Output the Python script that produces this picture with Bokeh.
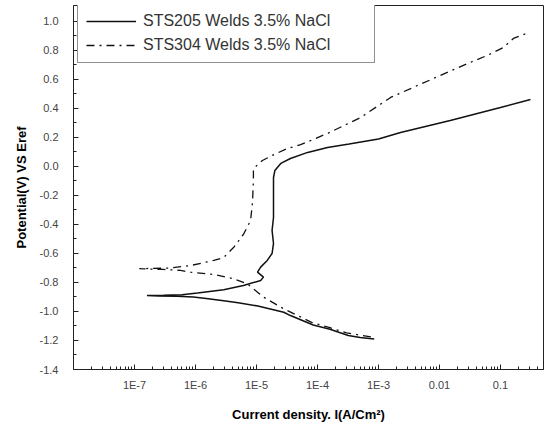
from bokeh.plotting import figure
from bokeh.models import Range1d, FixedTicker, CustomJSTickFormatter, Legend, LegendItem
from bokeh.embed import file_html
from bokeh.resources import INLINE

# ---- data ----
sts205_current = [8.5e-4, 5e-4, 3.2e-4, 1.6e-4, 8.5e-5, 3.6e-5, 2.8e-5, 1.05e-5, 5e-6, 2.9e-6,
                  1.5e-6, 9.2e-7, 5e-7, 2.5e-7, 1.6e-7,
                  3e-7, 6e-7, 1.08e-6, 2.9e-6, 6.1e-6, 1.17e-5, 1.3e-5, 1.04e-5, 1.17e-5, 1.5e-5,
                  1.8e-5, 1.9e-5, 1.8e-5, 1.9e-5, 1.9e-5, 1.9e-5, 2.0e-5, 2.5e-5, 3.6e-5, 6.9e-5,
                  1.46e-4, 3.3e-4, 1e-3, 2.3e-3, 0.015, 0.1, 0.31]
sts205_potential = [-1.19, -1.18, -1.165, -1.122, -1.093, -1.028, -1.005, -0.962, -0.94, -0.926,
                    -0.91, -0.90, -0.895, -0.893, -0.89,
                    -0.888, -0.885, -0.873, -0.85, -0.821, -0.786, -0.763, -0.729, -0.694, -0.648,
                    -0.600, -0.531, -0.441, -0.352, -0.214, -0.076, -0.028, 0.021, 0.055, 0.097,
                    0.131, 0.155, 0.19, 0.234, 0.317, 0.407, 0.462]

sts304_current = [7.5e-4, 3e-4, 1.6e-4, 8e-5, 3.2e-5, 2.5e-5, 1.3e-5, 1.04e-5, 7.1e-6, 4.2e-6,
                  2.0e-6, 8.3e-7, 5.7e-7, 3e-7, 1.2e-7,
                  1.8e-7, 3.9e-7, 8.3e-7, 2.0e-6, 2.9e-6, 4.2e-6, 4.9e-6, 5.5e-6, 6.1e-6, 8.0e-6,
                  8.6e-6, 8.9e-6, 8.9e-6, 1.25e-5, 1.8e-5, 3.2e-5, 5.3e-5, 1.5e-4, 5.1e-4, 1.58e-3,
                  3.7e-3, 0.0104, 0.029, 0.061, 0.112, 0.163, 0.277]
sts304_potential = [-1.175, -1.148, -1.112, -1.075, -0.993, -0.97, -0.901, -0.867, -0.809, -0.774,
                    -0.745, -0.729, -0.717, -0.71, -0.705,
                    -0.703, -0.70, -0.683, -0.648, -0.628, -0.559, -0.524, -0.49, -0.469, -0.372,
                    -0.248, -0.097, -0.014, 0.041, 0.076, 0.124, 0.15, 0.23, 0.338, 0.476,
                    0.545, 0.628, 0.71, 0.766, 0.821, 0.883, 0.92]

x_tick_values = [1e-7, 1e-6, 1e-5, 1e-4, 1e-3, 0.01, 0.1]
x_tick_labels = ["1E-7", "1E-6", "1E-5", "1E-4", "1E-3", "0.01", "0.1"]
y_tick_values = [-1.4, -1.2, -1.0, -0.8, -0.6, -0.4, -0.2, 0.0, 0.2, 0.4, 0.6, 0.8, 1.0]
y_tick_labels = ["-1.4", "-1.2", "-1.0", "-0.8", "-0.6", "-0.4", "-0.2", "0.0", "0.2", "0.4", "0.6", "0.8", "1.0"]

series_names = ["STS205 Welds 3.5% NaCl", "STS304 Welds 3.5% NaCl"]

X_MIN, X_MAX = 1e-8, 0.507
Y_MIN, Y_MAX = -1.4, 1.11

p = figure(width=545, height=430, x_axis_type="log",
           x_range=Range1d(X_MIN, X_MAX), y_range=Range1d(Y_MIN, Y_MAX),
           output_backend="svg", toolbar_location=None,
           min_border_left=73, min_border_right=2, min_border_top=5, min_border_bottom=61)

p.xgrid.visible = False
p.ygrid.visible = False
p.outline_line_color = "#222222"
p.outline_line_width = 1
p.background_fill_color = "white"
p.border_fill_color = "white"

r1 = p.line(sts205_current, sts205_potential, line_color="#111111", line_width=1.5)
r2 = p.line(sts304_current, sts304_potential, line_color="#111111", line_width=1.3,
            line_dash="8 5 2 5")

# x axis ticks
minor_x = []
for d in [1e-8] + x_tick_values:
    for m in range(2, 10):
        if m * d < X_MAX:
            minor_x.append(m * d)
p.xaxis.ticker = FixedTicker(ticks=x_tick_values, minor_ticks=minor_x)
p.xaxis.formatter = CustomJSTickFormatter(args=dict(vals=x_tick_values, labs=x_tick_labels), code="""
for (let i = 0; i < vals.length; i++) {
  if (Math.abs(Math.log10(tick) - Math.log10(vals[i])) < 1e-6) return labs[i];
}
return "";
""")
minor_y = [(a + b) / 2 for a, b in zip(y_tick_values[:-1], y_tick_values[1:])]
p.yaxis.ticker = FixedTicker(ticks=y_tick_values, minor_ticks=minor_y)
p.yaxis.formatter = CustomJSTickFormatter(args=dict(vals=y_tick_values, labs=y_tick_labels), code="""
for (let i = 0; i < vals.length; i++) {
  if (Math.abs(tick - vals[i]) < 1e-6) return labs[i];
}
return "";
""")

for ax in (p.xaxis, p.yaxis):
    ax.axis_line_color = "#222222"
    ax.axis_line_width = 1
    ax.major_tick_in = 5
    ax.major_tick_out = 0
    ax.minor_tick_in = 3
    ax.minor_tick_out = 0
    ax.major_tick_line_color = "#222222"
    ax.minor_tick_line_color = "#222222"
    ax.major_label_text_font = "Liberation Sans"
    ax.major_label_text_font_size = "11px"
    ax.major_label_text_color = "#444444"
    ax.axis_label_text_font = "Liberation Sans"
    ax.axis_label_text_font_size = "13px"
    ax.axis_label_text_font_style = "bold"
    ax.axis_label_text_color = "#000000"

p.xaxis.major_label_standoff = 9
p.yaxis.major_label_standoff = 15
p.xaxis.axis_label = "Current density. I(A/Cm\u00b2)"
p.yaxis.axis_label = "Potential(V) VS Eref"
p.xaxis.axis_label_standoff = 13
p.yaxis.axis_label_standoff = 8

legend = Legend(items=[LegendItem(label=series_names[0], renderers=[r1]),
                       LegendItem(label=series_names[1], renderers=[r2])],
                location=(4, 364 - 58))
legend.padding = 8
legend.spacing = 6
legend.margin = 0
legend.glyph_width = 50
legend.glyph_height = 18
legend.label_height = 18
legend.label_width = 223
legend.label_standoff = 7
legend.label_text_font = "Liberation Sans"
legend.label_text_font_size = "16px"
legend.label_text_color = "#333333"
legend.border_line_color = "#222222"
legend.border_line_width = 1
legend.background_fill_color = "white"
legend.background_fill_alpha = 1.0
p.add_layout(legend)

open("out.html", "w").write(file_html(p, INLINE))
